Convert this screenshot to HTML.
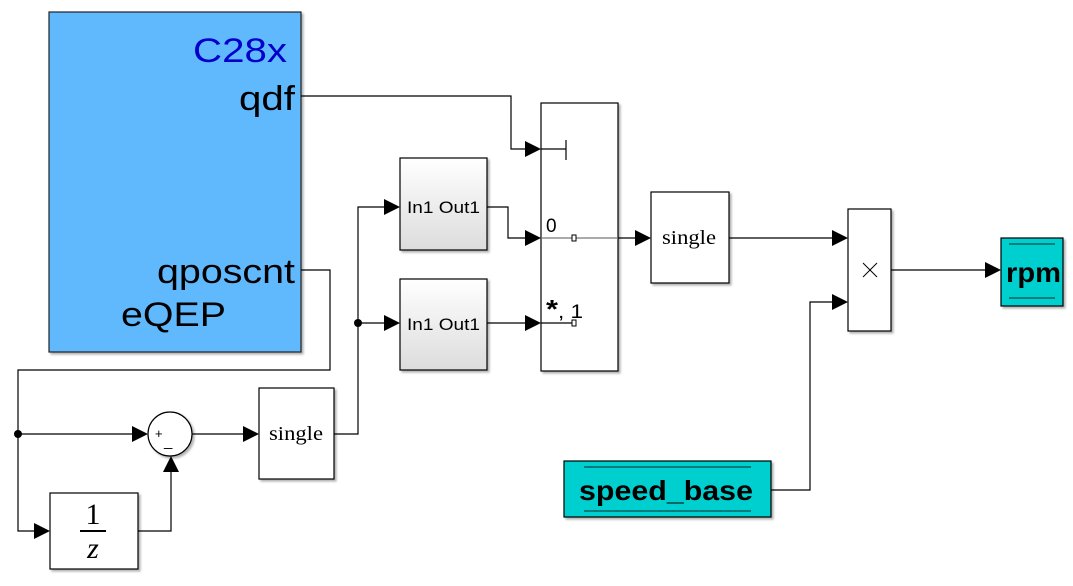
<!DOCTYPE html>
<html><head><style>body{margin:0;background:#fff}svg{display:block}</style></head><body>
<svg width="1073" height="586" viewBox="0 0 1073 586" xmlns="http://www.w3.org/2000/svg">
<defs>
<linearGradient id="g" x1="0" y1="0" x2="0" y2="1"><stop offset="0" stop-color="#fff"/><stop offset="1" stop-color="#dcdcdc"/></linearGradient>
<filter id="s"><feDropShadow dx="2" dy="2" stdDeviation="1" flood-color="#000" flood-opacity="0.3"/></filter>
</defs>
<g fill="none" stroke="#000" stroke-width="1.2">
<rect x="49" y="12" width="252" height="340" fill="#61b9fd" stroke="#222" filter="url(#s)"/>
<rect x="541" y="103" width="77" height="268" fill="#fff" filter="url(#s)"/>
<rect x="400" y="158" width="87" height="92" fill="url(#g)" filter="url(#s)"/>
<rect x="400" y="279" width="87" height="91" fill="url(#g)" filter="url(#s)"/>
<rect x="651" y="192" width="78" height="91" fill="#fff" filter="url(#s)"/>
<rect x="259" y="388" width="75" height="91" fill="#fff" filter="url(#s)"/>
<rect x="50" y="493" width="88" height="76" fill="#fff" filter="url(#s)"/>
<rect x="848" y="209" width="43" height="122" fill="#fff" filter="url(#s)"/>
<rect x="1001" y="238" width="62" height="68" fill="#00cfcf" filter="url(#s)"/>
<rect x="564" y="461" width="207" height="56" fill="#00cfcf" filter="url(#s)"/>
<circle cx="170" cy="434" r="22" fill="#fff" filter="url(#s)"/>
<polyline points="301,96 511,96 511,149 526,149"/>
<polyline points="541,149 566,149"/><line x1="566" y1="140" x2="566" y2="160"/>
<line x1="541" y1="238" x2="618" y2="238" stroke="#777"/>
<line x1="541" y1="323" x2="574" y2="323"/>
<polyline points="487,207 508,207 508,238 526,238"/>
<line x1="487" y1="323" x2="526" y2="323"/>
<polyline points="385,207 358,207 358,434 334,434"/>
<line x1="358" y1="323" x2="385" y2="323"/>
<polyline points="301,270 330,270 330,370 18,370 18,531 35,531"/>
<line x1="18" y1="434" x2="133" y2="434"/>
<line x1="192" y1="434" x2="244" y2="434"/>
<polyline points="138,531 171,531 171,471"/>
<line x1="618" y1="238" x2="636" y2="238"/>
<line x1="729" y1="238" x2="833" y2="238"/>
<line x1="891" y1="270" x2="986" y2="270"/>
<polyline points="771,490 810,490 810,302 833,302"/>
<line x1="1009" y1="244" x2="1055" y2="244" stroke="#006060" stroke-width="1.5"/>
<line x1="1009" y1="298" x2="1055" y2="298" stroke="#006060" stroke-width="1.5"/>
<line x1="584" y1="467" x2="751" y2="467" stroke="#006060" stroke-width="1.5"/>
<line x1="584" y1="511" x2="751" y2="511" stroke="#006060" stroke-width="1.5"/>
<line x1="80" y1="531" x2="106" y2="531" stroke-width="2"/>
<line x1="863" y1="263" x2="877" y2="277" stroke-width="1"/><line x1="877" y1="263" x2="863" y2="277" stroke-width="1"/>
</g>
<rect x="572" y="235" width="4" height="6" fill="#fff" stroke="#000" stroke-width="1"/>
<rect x="572" y="320" width="4" height="6" fill="#fff" stroke="#000" stroke-width="1"/>
<g fill="#000">
<circle cx="18" cy="434" r="4"/><circle cx="358" cy="323" r="4"/>
<polygon points="525,141 541,149 525,157"/>
<polygon points="525,230 541,238 525,246"/>
<polygon points="525,315 541,323 525,331"/>
<polygon points="384,199 400,207 384,215"/>
<polygon points="384,315 400,323 384,331"/>
<polygon points="635,230 651,238 635,246"/>
<polygon points="832,230 848,238 832,246"/>
<polygon points="832,294 848,302 832,310"/>
<polygon points="985,262 1001,270 985,278"/>
<polygon points="132,426 148,434 132,442"/>
<polygon points="243,426 259,434 243,442"/>
<polygon points="34,523 50,531 34,539"/>
<polygon points="163,472 171,456 179,472"/>
</g>
<g font-family="Liberation Sans, sans-serif">
<text x="287" y="62" font-size="34" fill="#0000cc" text-anchor="end" textLength="94" lengthAdjust="spacingAndGlyphs">C28x</text>
<text x="295" y="110" font-size="34" text-anchor="end" textLength="56" lengthAdjust="spacingAndGlyphs">qdf</text>
<text x="295" y="283" font-size="34" text-anchor="end" textLength="138" lengthAdjust="spacingAndGlyphs">qposcnt</text>
<text x="121" y="326" font-size="34" textLength="105" lengthAdjust="spacingAndGlyphs">eQEP</text>
<text x="407" y="213" font-size="17" textLength="73" lengthAdjust="spacingAndGlyphs">In1 Out1</text>
<text x="407" y="330" font-size="17" textLength="73" lengthAdjust="spacingAndGlyphs">In1 Out1</text>
<text x="546" y="232" font-size="19">0</text>
<text x="546" y="318" font-size="19" textLength="37" lengthAdjust="spacingAndGlyphs"><tspan font-size="26" font-weight="bold">*</tspan>, 1</text>
<text x="1006" y="282" font-size="28" font-weight="bold" textLength="55" lengthAdjust="spacingAndGlyphs">rpm</text>
<text x="579" y="500" font-size="28" font-weight="bold" textLength="174" lengthAdjust="spacingAndGlyphs">speed_base</text>
<text x="155" y="438" font-size="13">+</text>
<text x="164" y="446" font-size="15">_</text>
</g>
<g font-family="Liberation Serif, serif" font-size="20">
<text x="662" y="244" textLength="54" lengthAdjust="spacingAndGlyphs">single</text>
<text x="269" y="440" textLength="54" lengthAdjust="spacingAndGlyphs">single</text>
<text x="93" y="524" font-size="30" text-anchor="middle">1</text>
<text x="93" y="558" font-size="30" font-style="italic" text-anchor="middle">z</text>
</g>
</svg>
</body></html>
